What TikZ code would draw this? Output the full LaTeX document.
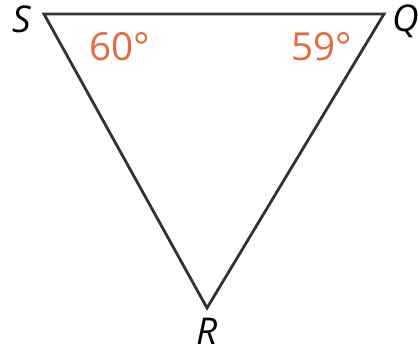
\documentclass[tikz,border=0pt]{standalone}
\usepackage{fontspec}
\setmainfont{Open Sans}
\usepackage{tikz}
\definecolor{anglecol}{RGB}{228, 108, 60}
\definecolor{sidecol}{gray}{0.2}
\tikzset{
	vertex/.style={font=\fontsize{21}{24}\selectfont\itshape, inner sep=0pt},
	angletext/.style={font=\fontsize{22}{26}\selectfont, text=anglecol, inner sep=0pt}
}

\begin{document}
\begin{tikzpicture}
		\useasboundingbox (0,0) rectangle (8.36, 7.12);

		\coordinate (s) at (0.88, 6.84);
		\coordinate (q) at (7.68, 6.84);
		\coordinate (r) at (4.14, 0.96);

		\draw[sidecol, line width=1.6pt, line join=miter] (s) -- (q) -- (r) -- cycle;

		\node[vertex] (slabel) at (0.44, 6.74) {S};
		\node[vertex] (qlabel) at (8.12, 6.70) {Q};
		\node[vertex] (rlabel) at (4.14, 0.50) {R};

		\node[angletext] (sangle) at (2.40, 6.18) {60\textdegree};
		\node[angletext] (qangle) at (6.44, 6.18) {59\textdegree};
	\end{tikzpicture}
\end{document}
